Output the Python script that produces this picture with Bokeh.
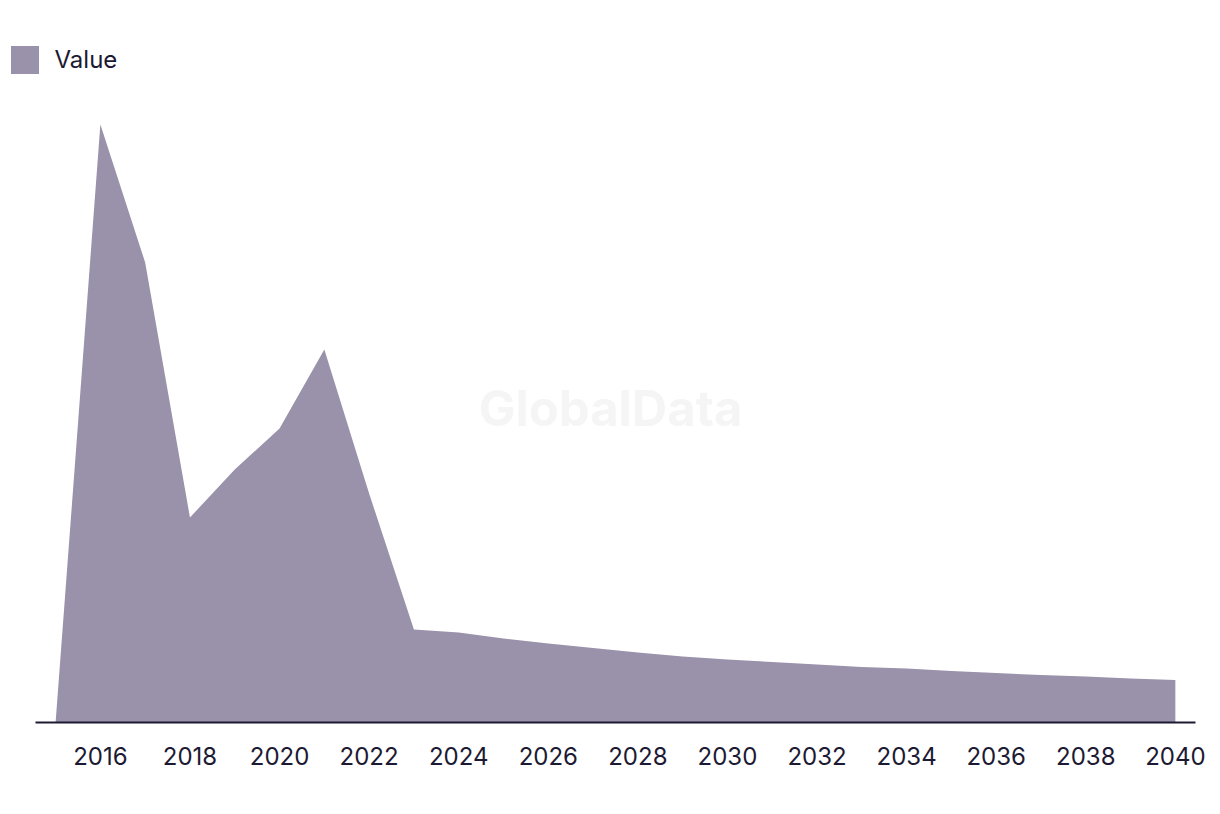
from bokeh.plotting import figure
from bokeh.models import Range1d, FixedTicker, Legend, LegendItem, Label
from bokeh.embed import file_html
from bokeh.resources import INLINE

years = list(range(2015, 2041))
values = [0, 598, 460, 205, 253, 294, 373, 229, 93, 90, 84, 79, 74.5, 70, 66,
          63, 60.5, 58, 55.5, 54, 51.5, 49.5, 47.5, 46, 44, 42.5]
tick_years = list(range(2016, 2041, 2))
series_name = "Value"

AREA = "#9a91aa"
INK = "#1c1a33"
FONT = "Inter"

p = figure(width=1220, height=814, output_backend="svg", toolbar_location=None,
           x_range=Range1d(2013.77, 2040.45), y_range=Range1d(0, 692),
           min_border_left=0, min_border_right=25, min_border_top=30,
           min_border_bottom=92)
p.outline_line_color = None
p.xgrid.visible = False
p.ygrid.visible = False
p.yaxis.visible = False
p.background_fill_color = "white"
p.border_fill_color = "white"

wm = Label(x=610, y=314, x_units="screen", y_units="screen", text="GlobalData",
           text_font=FONT, text_font_size="49px", text_font_style="bold",
           text_color="#f5f5f5", text_align="center", text_baseline="middle")
p.add_layout(wm)

r = p.varea(x=years, y1=[0] * len(years), y2=values, fill_color=AREA, fill_alpha=1)

ax = p.xaxis[0]
ax.ticker = FixedTicker(ticks=tick_years)
ax.bounds = (2014.55, 2040.45)
ax.major_tick_line_color = None
ax.minor_tick_line_color = None
ax.axis_line_color = INK
ax.axis_line_width = 2
ax.major_label_text_font = FONT
ax.major_label_text_font_size = "24px"
ax.major_label_text_color = INK
ax.major_label_standoff = 18

legend = Legend(items=[LegendItem(label=series_name, renderers=[r])],
                location=(6.5, 645.5), orientation="horizontal",
                glyph_width=35, glyph_height=35, label_standoff=13,
                label_text_font=FONT, label_text_font_size="24px",
                label_text_color=INK, padding=0, margin=0, spacing=0,
                border_line_color=None, background_fill_alpha=0)
p.add_layout(legend, "center")

open("out.html", "w").write(file_html(p, INLINE))
